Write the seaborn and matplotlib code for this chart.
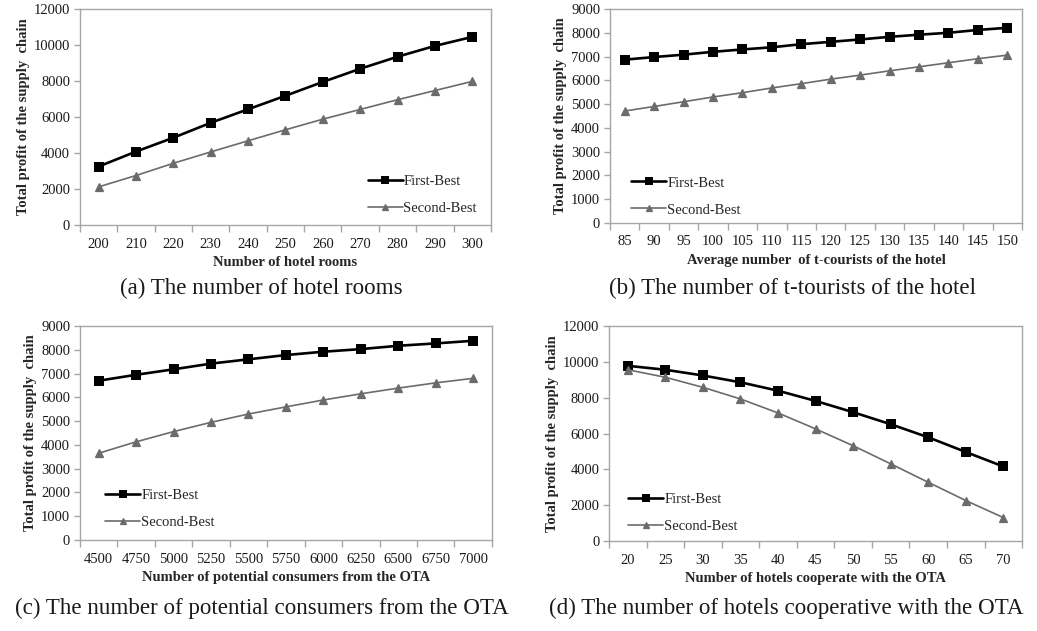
import matplotlib
matplotlib.use("Agg")
import matplotlib.pyplot as plt
import seaborn as sns
import pandas as pd
import numpy as np

# ---- data -------------------------------------------------------------
rooms = [200, 210, 220, 230, 240, 250, 260, 270, 280, 290, 300]
rooms_first = [3250, 4080, 4850, 5680, 6430, 7180, 7950, 8680, 9350, 9950, 10450]
rooms_second = [2120, 2750, 3430, 4060, 4680, 5290, 5880, 6420, 6960, 7470, 7980]

tourists = [85, 90, 95, 100, 105, 110, 115, 120, 125, 130, 135, 140, 145, 150]
tourists_first = [6870, 6980, 7080, 7200, 7300, 7390, 7520, 7620, 7720, 7830, 7920, 8000, 8120, 8210]
tourists_second = [4710, 4900, 5100, 5300, 5480, 5680, 5860, 6050, 6220, 6400, 6570, 6740, 6910, 7060]

consumers = [4500, 4750, 5000, 5250, 5500, 5750, 6000, 6250, 6500, 6750, 7000]
consumers_first = [6700, 6950, 7180, 7420, 7600, 7780, 7920, 8030, 8170, 8270, 8380]
consumers_second = [3650, 4130, 4560, 4950, 5300, 5600, 5890, 6150, 6390, 6610, 6800]

hotels = [20, 25, 30, 35, 40, 45, 50, 55, 60, 65, 70]
hotels_first = [9780, 9560, 9240, 8860, 8390, 7820, 7190, 6520, 5790, 4970, 4160]
hotels_second = [9560, 9140, 8580, 7930, 7150, 6260, 5320, 4310, 3280, 2260, 1310]

series_names = ["First-Best", "Second-Best"]
ylabel = "Total profit of the supply  chain"

panels = [
    dict(x=rooms, first=rooms_first, second=rooms_second,
         ymax=12000, ystep=2000,
         xlabel="Number of hotel rooms",
         caption="(a) The number of hotel rooms",
         rect=[0.0771, 0.6434, 0.3963, 0.3423],
         leg=(0.700, 0.045), cap=(0.252, 0.5436)),
    dict(x=tourists, first=tourists_first, second=tourists_second,
         ymax=9000, ystep=1000,
         xlabel="Average number  of t-courists of the hotel",
         caption="(b) The number of t-tourists of the hotel",
         rect=[0.5882, 0.6466, 0.3973, 0.3391],
         leg=(0.052, 0.030), cap=(0.764, 0.5436)),
    dict(x=consumers, first=consumers_first, second=consumers_second,
         ymax=9000, ystep=1000,
         xlabel="Number of potential consumers from the OTA",
         caption="(c) The number of potential consumers from the OTA",
         rect=[0.0771, 0.1442, 0.3973, 0.3391],
         leg=(0.062, 0.050), cap=(0.253, 0.0365)),
    dict(x=hotels, first=hotels_first, second=hotels_second,
         ymax=12000, ystep=2000,
         xlabel="Number of hotels cooperate with the OTA",
         caption="(d) The number of hotels cooperative with the OTA",
         rect=[0.5873, 0.1426, 0.3983, 0.3407],
         leg=(0.047, 0.037), cap=(0.758, 0.0365)),
]

# ---- style ------------------------------------------------------------
sns.set_theme(style="white")
plt.rcParams["font.family"] = ["Liberation Serif", "DejaVu Serif"]
plt.rcParams["axes.edgecolor"] = "#a6a6a6"
plt.rcParams["axes.linewidth"] = 1.0

colors = {"First-Best": "#000000", "Second-Best": "#6b6b6b"}
markers = {"First-Best": "s", "Second-Best": "^"}
widths = {"First-Best": 1.9, "Second-Best": 1.2}
msizes = {"First-Best": 5.6, "Second-Best": 5.8}

fig = plt.figure(figsize=(10.37, 6.31), dpi=100)

for p in panels:
    ax = fig.add_axes(p["rect"])
    df = pd.DataFrame({
        "x": p["x"] * 2,
        "profit": p["first"] + p["second"],
        "series": [series_names[0]] * len(p["x"]) + [series_names[1]] * len(p["x"]),
    })
    for name in series_names:
        sub = df[df["series"] == name]
        sns.pointplot(data=sub, x="x", y="profit", ax=ax, color=colors[name],
                      marker=markers[name], linewidth=widths[name],
                      markersize=msizes[name], errorbar=None, label=name)

    n = len(p["x"])
    ax.set_xlim(-0.5, n - 0.5)
    ax.set_ylim(0, p["ymax"])
    ax.set_yticks(np.arange(0, p["ymax"] + 1, p["ystep"]))
    ax.set_xticks(range(n))
    ax.set_xticklabels([str(v) for v in p["x"]])
    ax.set_xticks(np.arange(-0.5, n, 1.0), minor=True)
    ax.tick_params(axis="x", which="major", length=0, labelsize=10.5,
                   pad=9, colors="#1a1a1a")
    ax.tick_params(axis="x", which="minor", length=5, width=1.0,
                   color="#a6a6a6", direction="out", bottom=True)
    ax.tick_params(axis="y", which="major", length=4, width=1.0,
                   color="#a6a6a6", direction="out", left=True,
                   labelsize=10.5, pad=3, labelcolor="#1a1a1a")
    for s in ax.spines.values():
        s.set_color("#a6a6a6")
    ax.grid(False)

    ax.set_xlabel(p["xlabel"], fontsize=10.5, fontweight="bold", labelpad=4)
    ax.set_ylabel(ylabel, fontsize=10.5, fontweight="bold", labelpad=3)

    ax.legend(loc="lower left", bbox_to_anchor=p["leg"], frameon=False,
              fontsize=10.5, handlelength=2.4, handletextpad=0.05,
              labelspacing=0.95, borderpad=0, borderaxespad=0,
              markerscale=0.7)

    fig.text(p["cap"][0], p["cap"][1], p["caption"], ha="center",
             va="center", fontsize=16.6, color="#1a1a1a")

fig.savefig("out.png", dpi=100)
